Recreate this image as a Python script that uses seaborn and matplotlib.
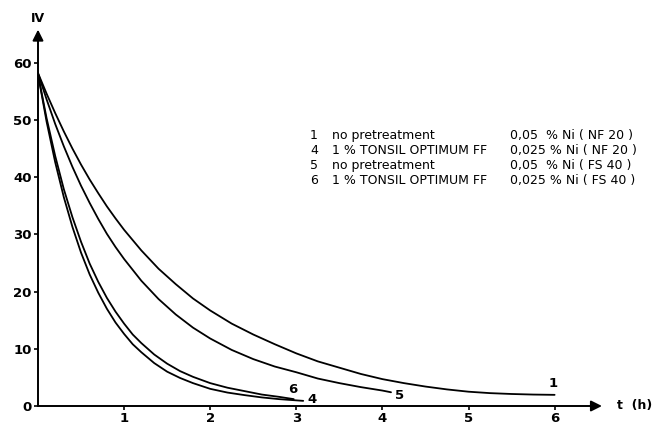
import matplotlib
matplotlib.use("Agg")
import matplotlib.pyplot as plt
import seaborn as sns
import pandas as pd

# --- data (t in h, IV) ---
t_curve1 = [0, 0.1, 0.2, 0.3, 0.4, 0.5, 0.6, 0.7, 0.8, 0.9, 1.0, 1.2, 1.4, 1.6, 1.8, 2.0,
            2.25, 2.5, 2.75, 3.0, 3.25, 3.5, 3.75, 4.0, 4.25, 4.5, 4.75, 5.0, 5.25, 5.5, 5.75, 6.0]
iv_curve1 = [58.2, 54.6, 51.2, 48.0, 45.0, 42.2, 39.6, 37.2, 34.9, 32.8, 30.8, 27.2, 24.0, 21.3,
             18.8, 16.7, 14.4, 12.5, 10.8, 9.2, 7.8, 6.7, 5.6, 4.7, 4.0, 3.4, 2.9, 2.5, 2.25,
             2.1, 2.0, 1.95]

t_curve5 = [0, 0.1, 0.2, 0.3, 0.4, 0.5, 0.6, 0.7, 0.8, 0.9, 1.0, 1.2, 1.4, 1.6, 1.8, 2.0,
            2.25, 2.5, 2.75, 3.0, 3.25, 3.5, 3.75, 4.0, 4.1]
iv_curve5 = [58.2, 53.6, 49.3, 45.4, 41.8, 38.5, 35.5, 32.7, 30.1, 27.8, 25.7, 21.9, 18.7, 16.0,
             13.7, 11.8, 9.8, 8.2, 6.9, 5.9, 4.8, 4.0, 3.3, 2.7, 2.4]

t_curve6 = [0, 0.1, 0.2, 0.3, 0.4, 0.5, 0.6, 0.7, 0.8, 0.9, 1.0, 1.1, 1.2, 1.35, 1.5, 1.65,
            1.8, 2.0, 2.2, 2.4, 2.6, 2.8, 2.97]
iv_curve6 = [58.0, 50.3, 43.7, 37.9, 33.0, 28.7, 24.9, 21.7, 18.9, 16.5, 14.4, 12.5, 11.0, 9.0,
             7.4, 6.1, 5.1, 4.0, 3.2, 2.6, 2.0, 1.6, 1.2]

t_curve4 = [0, 0.1, 0.2, 0.3, 0.4, 0.5, 0.6, 0.7, 0.8, 0.9, 1.0, 1.1, 1.2, 1.35, 1.5, 1.65,
            1.8, 2.0, 2.2, 2.4, 2.6, 2.8, 3.08]
iv_curve4 = [58.0, 49.7, 42.6, 36.5, 31.3, 26.8, 23.0, 19.8, 17.0, 14.6, 12.6, 10.8, 9.4, 7.5,
             6.0, 4.9, 4.0, 3.0, 2.35, 1.9, 1.5, 1.2, 0.9]

curve_ids = ["1", "4", "5", "6"]
label_t = [5.98, 3.18, 4.2, 2.96]
label_iv = [4.0, 1.2, 1.9, 2.9]

legend_nums = ["1", "4", "5", "6"]
legend_treat = ["no pretreatment", "1 % TONSIL OPTIMUM FF", "no pretreatment", "1 % TONSIL OPTIMUM FF"]
legend_ni = ["0,05  % Ni ( NF 20 )", "0,025 % Ni ( NF 20 )", "0,05  % Ni ( FS 40 )", "0,025 % Ni ( FS 40 )"]

y_ticks = [0, 10, 20, 30, 40, 50, 60]
x_ticks = [1, 2, 3, 4, 5, 6]

# --- long table ---
frames = []
for cid, tt, vv in [("1", t_curve1, iv_curve1), ("4", t_curve4, iv_curve4),
                    ("5", t_curve5, iv_curve5), ("6", t_curve6, iv_curve6)]:
    frames.append(pd.DataFrame({"t": tt, "IV": vv, "curve": cid}))
df = pd.concat(frames, ignore_index=True)

sns.set_style("white")
plt.rcParams["font.family"] = ["DejaVu Sans"]
plt.rcParams["text.color"] = "black"
plt.rcParams["xtick.color"] = "black"
plt.rcParams["ytick.color"] = "black"
plt.rcParams["axes.labelcolor"] = "black"

fig = plt.figure(figsize=(6.56, 4.24), dpi=100)
ax = fig.add_axes([38 / 656, 18 / 424, 602.7 / 656, 68 * 5.72 / 424])

sns.lineplot(data=df, x="t", y="IV", hue="curve", units="curve", estimator=None,
             sort=False, palette=["black"] * 4, linewidth=1.3, legend=False, ax=ax)

ax.set_xlim(0, 7.0)
ax.set_ylim(0, 68)
for s in ax.spines.values():
    s.set_visible(False)

# axes with arrows
ax.annotate("", xy=(6.55, 0), xytext=(0, 0),
            arrowprops=dict(arrowstyle="-|>", lw=1.4, color="black", mutation_scale=16,
                            shrinkA=0, shrinkB=0), annotation_clip=False)
ax.annotate("", xy=(0, 65.8), xytext=(0, 0),
            arrowprops=dict(arrowstyle="-|>", lw=1.4, color="black", mutation_scale=16,
                            shrinkA=0, shrinkB=0), annotation_clip=False)
ax.text(0, 67.8, "IV", ha="center", va="center", fontsize=9, fontweight="bold",
        color="black", clip_on=False)
ax.text(6.72, 0, "t  (h)", ha="left", va="center", fontsize=9, fontweight="bold",
        color="black", clip_on=False)

ax.set_xticks(x_ticks)
ax.set_xticklabels([str(v) for v in x_ticks])
ax.set_yticks(y_ticks)
ax.set_yticklabels([str(v) for v in y_ticks])
ax.tick_params(axis="both", which="both", direction="out", length=3, width=1.2,
               color="black", labelcolor="black", labelsize=9.5, pad=1.5,
               bottom=True, left=True)
for lab in ax.get_xticklabels() + ax.get_yticklabels():
    lab.set_fontweight("bold")
ax.set_xlabel("")
ax.set_ylabel("")

# curve labels
for cid, lt, lv in zip(curve_ids, label_t, label_iv):
    ax.text(lt, lv, cid, ha="center", va="center", fontsize=9.5, fontweight="bold",
            color="black")

# legend block as text
rows_iv = [47.3, 44.6, 42.0, 39.4]
for num, tr, ni, yv in zip(legend_nums, legend_treat, legend_ni, rows_iv):
    ax.text(3.205, yv, num, ha="center", va="center", fontsize=9, color="black")
    ax.text(3.41, yv, tr, ha="left", va="center", fontsize=9, color="black")
    ax.text(5.48, yv, ni, ha="left", va="center", fontsize=9, color="black")

fig.savefig("out.png", dpi=100)
